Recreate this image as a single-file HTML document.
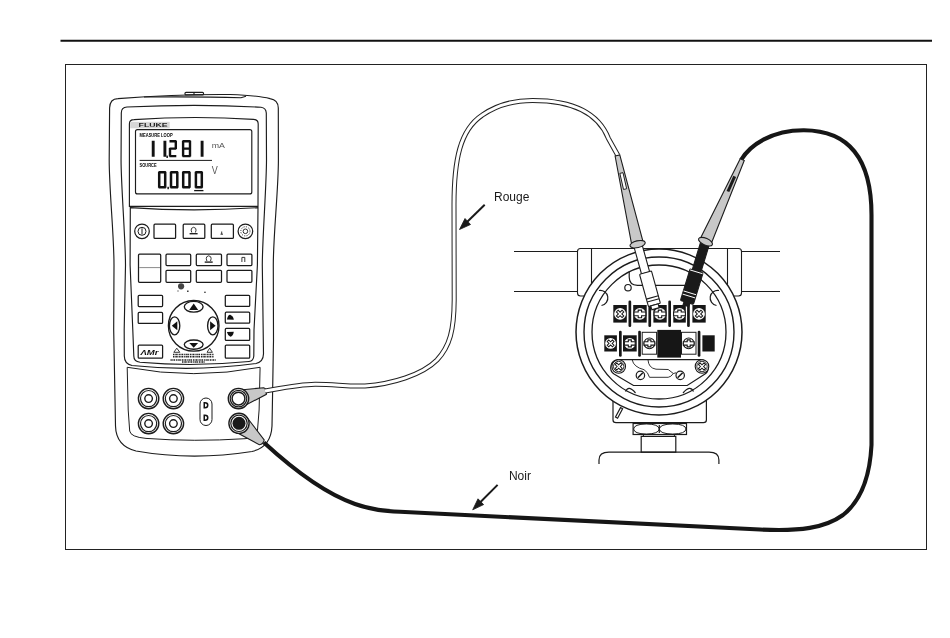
<!DOCTYPE html>
<html><head><meta charset="utf-8"><style>
html,body{margin:0;padding:0;background:#fff;}
body{width:950px;height:638px;overflow:hidden;}
svg{display:block;will-change:transform;}
text{font-family:"Liberation Sans",sans-serif;}
</style></head><body>
<svg width="950" height="638" viewBox="0 0 950 638">
<g fill="none" stroke="#1c1c1c" stroke-width="1.15">
<!-- header rule and frame -->
<line x1="60.5" y1="40.7" x2="932" y2="40.7" stroke="#111" stroke-width="2"/>
<rect x="65.5" y="64.5" width="861" height="485" stroke="#222" stroke-width="1"/>

<!-- ============ METER ============ -->
<!-- body -->
<path id="body" d="M109.6,108 Q109.8,98.8 118,98.6 Q180,94 230,94.5 Q258,95.5 270,98.6 Q278.3,100 278.3,108 L278.4,160 C278.4,190 273.3,235 273.3,265 L273.5,340 L272.3,410 L272,426 Q271,447 252,451.5 Q192,461 136,451 Q116,446 115.5,426 L115.2,410 L113.7,330 L114,265 C114,235 109.2,190 109.2,160 Z"/>
<rect x="185" y="92.3" width="18.5" height="2.6" rx="1"/>
<line x1="194" y1="92.3" x2="194" y2="94.9"/>
<path d="M144,97 Q200,96.5 241,97.7 L246,96.2"/>
<!-- bezel -->
<path d="M121.3,113 Q121.3,107.2 127,107 Q200,103.5 261,107.3 Q266,108 266.3,113 L266.5,160 C266.5,185 262.3,240 262.3,265 L263.5,353.8 Q263.3,362 256,363.5 Q194,372 132,365.5 Q124.4,364 124.3,356 L124.2,330 L125.5,265 C125.5,240 121.05,185 121.05,160 Z"/>
<!-- display frame + keypad panel -->
<path d="M129.4,206.4 L129.4,124 Q129.4,119.7 134,119.6 Q194,115.6 253.5,119.4 Q258.2,119.7 258.2,124 L258,206.4 Z"/>
<path d="M130.3,207.6 Q194,212 258,207.6 L257.4,265 L254,330 L253.8,356 Q253.5,361 249,361.5 Q194,367 140,362.3 Q133.8,361.5 133.8,356 L132.8,330 L130.1,265 Z"/>
<!-- LCD -->
<rect x="135.5" y="129.6" width="116.3" height="64.3" rx="2"/>
<rect x="130.2" y="121.8" width="39.5" height="6.5" fill="#d6d6d6" stroke="none"/>
</g>

<!-- LCD content -->
<g fill="#1a1a1a" stroke="none">
<text x="138.6" y="127" font-size="5" font-weight="bold" textLength="29" lengthAdjust="spacingAndGlyphs" fill="#222">FLUKE</text>
<text x="139.6" y="137.2" font-size="5.4" font-weight="bold" textLength="33" lengthAdjust="spacingAndGlyphs" fill="#000">MEASURE LOOP</text>
<text x="139.6" y="167.2" font-size="4.8" font-weight="bold" textLength="17" lengthAdjust="spacingAndGlyphs" fill="#000">SOURCE</text>
<text x="211.7" y="148" font-size="8" textLength="13.2" lengthAdjust="spacingAndGlyphs" fill="#555">mA</text>
<text x="211.8" y="173.6" font-size="10" textLength="6" lengthAdjust="spacingAndGlyphs" fill="#555">V</text>
</g>
<line x1="139.6" y1="160.4" x2="212" y2="160.4" stroke="#1a1a1a" stroke-width="1"/>
<g fill="none" stroke="#111" stroke-width="2.4" stroke-linecap="square">
<!-- digits -->
<path stroke-width="2.9" d="M153.2,142.1 L153.2,147.9 M153.2,149.3 L153.2,155.2 M164.9,142.1 L164.9,147.9 M164.9,149.3 L164.9,155.2 M202.1,142.1 L202.1,147.9 M202.1,149.3 L202.1,155.2"/>
<path d="M170.7,141.2 L175.1,141.2 M175.8,141.9 L175.8,147.9 M170.7,148.6 L175.1,148.6 M170.0,149.3 L170.0,155.4 M170.7,156.1 L175.1,156.1 M183.8,141.2 L189.3,141.2 M190.0,141.9 L190.0,147.9 M190.0,149.3 L190.0,155.4 M183.8,156.1 L189.3,156.1 M183.1,149.3 L183.1,155.4 M183.1,141.9 L183.1,147.9 M183.8,148.6 L189.3,148.6" stroke-width="2.4"/>
<path d="M159.9,172.2 L164.6,172.2 M165.2,172.9 L165.2,179.1 M165.2,180.4 L165.2,186.6 M159.9,187.2 L164.6,187.2 M159.2,180.4 L159.2,186.6 M159.2,172.9 L159.2,179.1 M171.7,172.2 L176.7,172.2 M177.3,172.9 L177.3,179.1 M177.3,180.4 L177.3,186.6 M171.7,187.2 L176.7,187.2 M171.0,180.4 L171.0,186.6 M171.0,172.9 L171.0,179.1 M183.8,172.2 L188.8,172.2 M189.5,172.9 L189.5,179.1 M189.5,180.4 L189.5,186.6 M183.8,187.2 L188.8,187.2 M183.2,180.4 L183.2,186.6 M183.2,172.9 L183.2,179.1 M196.6,172.2 L201.1,172.2 M201.8,172.9 L201.8,179.1 M201.8,180.4 L201.8,186.6 M196.6,187.2 L201.1,187.2 M195.9,180.4 L195.9,186.6 M195.9,172.9 L195.9,179.1" stroke-width="2.5"/>
<line x1="194.8" y1="190.6" x2="202.8" y2="190.6" stroke-width="1.3"/>
</g>
<g fill="#111"><rect x="166.4" y="155.6" width="1.5" height="2.4"/><rect x="167.4" y="186.8" width="1.5" height="2.4"/></g>

<!-- keypad -->
<g fill="none" stroke="#1a1a1a" stroke-width="1.25">
<circle cx="142" cy="231.3" r="7.3"/>
<circle cx="142" cy="231.3" r="4" stroke-width="1"/>
<line x1="142" y1="228.3" x2="142" y2="234.3" stroke-width="1"/>
<rect x="154" y="224.2" width="21.6" height="14.2" rx="1"/>
<rect x="183.2" y="224.2" width="21.6" height="14.2" rx="1"/>
<rect x="211.3" y="224.2" width="22.1" height="14.2" rx="1"/>
<circle cx="245.4" cy="231.3" r="7.3"/>
<circle cx="245.4" cy="231.3" r="2.3" stroke-width="0.9"/>
<circle cx="245.4" cy="231.3" r="4.6" stroke-width="0.9" stroke-dasharray="1.1 1.3"/>
<rect x="138.5" y="254.2" width="22.2" height="28.1" rx="1"/>
<line x1="139.2" y1="267.6" x2="160" y2="267.6" stroke="#8a8a8a" stroke-width="1"/>
<rect x="166" y="254.2" width="24.7" height="11.4" rx="1"/>
<rect x="196.3" y="254.2" width="25.2" height="11.4" rx="1"/>
<rect x="227" y="254.2" width="24.9" height="11.4" rx="1"/>
<rect x="166" y="270.3" width="24.7" height="12" rx="1"/>
<rect x="196.3" y="270.3" width="25.2" height="12" rx="1"/>
<rect x="227" y="270.3" width="24.9" height="12" rx="1"/>
<rect x="138.2" y="295.3" width="24.4" height="11.2" rx="1"/>
<rect x="138.2" y="312.4" width="24.4" height="11" rx="1"/>
<rect x="138.2" y="345" width="24.4" height="13.2" rx="1"/>
<rect x="225.3" y="295.3" width="24.4" height="11.1" rx="1"/>
<rect x="225.3" y="312.2" width="24.4" height="11" rx="1"/>
<rect x="225.3" y="328.4" width="24.4" height="12" rx="1"/>
<rect x="225.3" y="345" width="24.4" height="13.2" rx="1"/>
<circle cx="193.7" cy="325.8" r="25.3" stroke-width="1.35"/>
<ellipse cx="193.7" cy="306.8" rx="9.4" ry="5.4" stroke-width="1.35"/>
<ellipse cx="193.7" cy="344.6" rx="9.4" ry="4.6" stroke-width="1.35"/>
<ellipse cx="174.6" cy="325.8" rx="5.2" ry="9" stroke-width="1.35"/>
<ellipse cx="212.8" cy="325.8" rx="5.2" ry="9" stroke-width="1.35"/>
</g>
<g fill="#111" stroke="none">
<path d="M189.2,310 L193.7,303.5 L198.2,310 Z"/>
<path d="M189.3,343 Q193.7,343.2 198.1,343 L193.7,347.8 Z"/>
<path d="M177.3,321.3 L177.3,330.3 L171.8,325.8 Z"/>
<path d="M210.1,321.3 L210.1,330.3 L215.6,325.8 Z"/>
<path d="M226.9,319.5 Q228,314.5 230.2,314.8 Q233.6,316.5 233.8,319.7 Z"/>
<path d="M226.9,332 L233.8,331.8 Q233,336.5 230.4,336.8 Q227.5,335 226.9,332 Z"/>
<circle cx="181.1" cy="286.3" r="3.1" fill="#444"/>
<rect x="177.5" y="290.5" width="1" height="1" />
<rect x="187" y="290.6" width="1.6" height="1.2" />
<rect x="204.2" y="291.7" width="1.5" height="1.1"/>
<text x="140.5" y="355.3" font-size="7.5" font-style="italic" font-weight="bold" textLength="18" lengthAdjust="spacingAndGlyphs">ΛMr</text>
<path d="M173,354.5 L214,354.5 M173,356.7 L214,356.7 M170.5,359.9 L216,359.9 M182,362.1 L205,362.1" stroke="#222" stroke-width="1.5" stroke-dasharray="1.3 0.5 0.9 0.4 1.6 0.9" fill="none"/>
</g>
<g fill="none" stroke="#222" stroke-width="0.9">
<path d="M173.8,352.3 L176.8,348.2 L179.8,352.3 Z M207,352.3 L209.7,348.2 L212.4,352.3 Z"/>
<path d="M191.8,232.5 Q190.6,230 191.6,228.3 Q193.6,226.2 195.6,228.3 Q196.6,230 195.4,232.5"/>
<path d="M206.9,261 Q205.7,258.5 206.7,256.8 Q208.7,254.7 210.7,256.8 Q211.7,258.5 210.5,261"/>
<path d="M220.5,234.2 L223,234.2 M221.7,231.5 L221.7,234.2"/>
<path d="M241.9,262 L241.9,257.4 L244.8,257.4 L244.8,262"/>
</g>
<g fill="#222" stroke="none">
<rect x="189.6" y="233" width="8" height="1.4"/>
<rect x="204.7" y="261.4" width="8" height="1.4"/>
</g>
<!-- jack panel -->
<g fill="none" stroke="#1c1c1c" stroke-width="1">
<path d="M127.2,367.3 Q194,380 260.1,367.3 L259.1,410 L257.5,430 Q256.5,438.5 245,438.7 Q194,442 146,438.4 Q130.5,437 129.7,431 L128.2,410 Z"/>
<circle cx="148.6" cy="398.6" r="10.2" stroke-width="1.4"/><circle cx="148.6" cy="398.6" r="8.1" stroke-width="1.2"/><circle cx="148.6" cy="398.6" r="3.8" stroke-width="1.4"/>
<circle cx="173.4" cy="398.6" r="10.2" stroke-width="1.4"/><circle cx="173.4" cy="398.6" r="8.1" stroke-width="1.2"/><circle cx="173.4" cy="398.6" r="3.8" stroke-width="1.4"/>
<circle cx="148.6" cy="423.6" r="10.2" stroke-width="1.4"/><circle cx="148.6" cy="423.6" r="8.1" stroke-width="1.2"/><circle cx="148.6" cy="423.6" r="3.8" stroke-width="1.4"/>
<circle cx="173.4" cy="423.6" r="10.2" stroke-width="1.4"/><circle cx="173.4" cy="423.6" r="8.1" stroke-width="1.2"/><circle cx="173.4" cy="423.6" r="3.8" stroke-width="1.4"/>
<rect x="200" y="398" width="12" height="27.5" rx="6"/>
</g>
<g fill="#111" stroke="none">
<path d="M203.5,402 L205,402 Q208.5,402 208.5,405 Q208.5,408.5 205,408.5 L203.5,408.5 Z M205,403.5 L205,407 Q207,407 207,405.2 Q207,403.5 205,403.5 Z" fill-rule="evenodd"/>
<path d="M203.5,414.5 L205,414.5 Q208.5,414.5 208.5,417.8 Q208.5,421 205,421 L203.5,421 Z M205,416 L205,419.5 Q207,419.5 207,417.7 Q207,416 205,416 Z" fill-rule="evenodd"/>
</g>
<!-- plugs -->
<g stroke="#1c1c1c" stroke-width="1.1">
<path d="M240,390 L263.7,387.7 Q266.9,388.8 266.4,394.3 L245,405.5 Z" fill="#c8c8c8"/>
<circle cx="238.5" cy="398.6" r="10.2" fill="#fff" stroke-width="1.4"/>
<circle cx="238.5" cy="398.6" r="8.3" fill="none" stroke-width="1.2"/>
<circle cx="238.5" cy="398.6" r="6.4" fill="#fff" stroke-width="1.5"/>
<path d="M247,417.5 L264.2,439.8 Q263.5,444.2 259.3,444.7 L234,431 Z" fill="#c8c8c8"/>
<circle cx="239" cy="423.3" r="10.1" fill="#fff" stroke-width="1.4"/>
<circle cx="239" cy="423.3" r="8.2" fill="none" stroke-width="1.2"/>
<circle cx="239" cy="423.3" r="6.5" fill="#1a1a1a" stroke="none"/>
</g>

<!-- ============ WIRES ============ -->
<!-- red lead (white double line) -->
<path d="M265,391 C285,387.5 300,384.5 315,384.3 C335,384.2 345,386.5 365,386 C392,384 422,375 437,360 C450,346 454,330 454.2,300 L454,205 C454,160 460,130 482,115.3 C498,104 515,100.5 532.6,100.5 C570,100.5 598,112 608.4,138.4 L617.9,155.5" fill="none" stroke="#222" stroke-width="5"/>
<path d="M265,391 C285,387.5 300,384.5 315,384.3 C335,384.2 345,386.5 365,386 C392,384 422,375 437,360 C450,346 454,330 454.2,300 L454,205 C454,160 460,130 482,115.3 C498,104 515,100.5 532.6,100.5 C570,100.5 598,112 608.4,138.4 L617.9,155.5" fill="none" stroke="#fff" stroke-width="3"/>
<!-- black lead -->
<path d="M263.9,442.6 C285,462 320,492 355,504 C372,510 385,511 400,511.8 L760,529.5 C800,531.5 825,528 843,515 C862,500 870,475 871.5,445 L871.5,215 C871.5,160 850,130.5 804,130.2 C772,130 750,145 741.2,159.8" fill="none" stroke="#161616" stroke-width="4.1"/>

<!-- labels -->
<g fill="#1a1a1a">
<text x="494" y="201" font-size="12">Rouge</text>
<text x="508.9" y="479.7" font-size="12">Noir</text>
</g>
<g stroke="#1a1a1a" stroke-width="2" fill="#1a1a1a">
<line x1="484.7" y1="204.7" x2="466" y2="223"/>
<path d="M459.5,229.5 L465,218.5 L470.5,224.5 Z" stroke-width="0.8"/>
<line x1="497.6" y1="484.9" x2="479" y2="503.5"/>
<path d="M472.7,509.8 L478,498.8 L483.6,504.6 Z" stroke-width="0.8"/>
</g>

<!-- ============ TRANSMITTER ============ -->
<g fill="none" stroke="#1c1c1c" stroke-width="1.2">
<line x1="514" y1="251.5" x2="577.5" y2="251.5" stroke-width="1"/>
<line x1="514" y1="291.5" x2="577.5" y2="291.5" stroke-width="1"/>
<line x1="741.5" y1="251.5" x2="780" y2="251.5" stroke-width="1"/>
<line x1="741.5" y1="291.5" x2="780" y2="291.5" stroke-width="1"/>
<rect x="577.5" y="248.5" width="164" height="47.5" rx="3" fill="#fff" stroke-width="1.1"/>
<line x1="591.5" y1="249" x2="591.5" y2="290" stroke-width="1.1"/>
<line x1="727.5" y1="249" x2="727.5" y2="290" stroke-width="1.1"/>
<!-- neck / nut / stem / base -->
<path d="M613,380 L613,420 Q613,422.6 616,422.6 L703.4,422.6 Q706.4,422.6 706.4,420 L706.4,380" fill="#fff"/>
<path d="M615.5,417 L620.5,407.6 L622.6,408.8 L617.6,418.2 Z"/>
<rect x="633.1" y="423.5" width="53.4" height="11" fill="#fff"/>
<path d="M633.6,429 Q634,424.2 646.4,423.9 Q658.8,424.2 659.3,429 Q658.8,433.8 646.4,434.1 Q634,433.8 633.6,429 Z M659.3,429 Q659.8,424.2 672.7,423.9 Q685.6,424.2 686,429 Q685.6,433.8 672.7,434.1 Q659.8,433.8 659.3,429 Z" stroke-width="1"/>
<line x1="659.3" y1="425" x2="659.3" y2="433"/>
<rect x="643.4" y="434.5" width="31" height="1.9" fill="#fff" stroke-width="1"/>
<rect x="641.2" y="436.4" width="34.6" height="15.8" fill="#fff"/>
<path d="M599,464 L599,460 Q599,452.2 609,452.2 L709,452.2 Q718.9,452.2 718.9,460 L718.9,464"/>
<circle cx="659" cy="332" r="83" fill="#fff" stroke-width="1.5"/>
<circle cx="659" cy="332" r="75" stroke-width="1.4"/>
<circle cx="659" cy="332" r="67" stroke-width="1.3"/>
<!-- inner upper shapes -->
<path d="M629.2,271.5 L629.2,277 Q629.2,285.3 637.5,285.3 L692,285.3"/>
<circle cx="628" cy="287.7" r="3.2"/>
<path d="M599,290.5 A7.2,7.2 0 1,1 601.5,305.5"/>
<path d="M719,290.5 A7.2,7.2 0 1,0 716.5,305.5"/>
<!-- lower plate -->
<path d="M617.7,359.6 L699.8,359.6 A8,8 0 0,1 705,374 L687.2,385.5 L633.5,385.5 L614,374 A8,8 0 0,1 617.7,359.6 Z"/>
<path d="M625.5,391.5 Q628.5,384.5 635.5,393 M683,393 Q690,384.5 693.5,391.5"/>
<path d="M632.2,359.8 Q633.5,367 644,369.7 Q648,372 649.5,377.3 L668.2,377.3 Q671,377 673.3,373.5 L676,372.8 M648,359.8 Q648.5,368 656,369.2 L668.2,369.5 L673.3,373.5" stroke-width="0.9"/>
<circle cx="640.4" cy="375.4" r="4.2"/>
<circle cx="680.2" cy="375.4" r="4.2"/>
<line x1="637.8" y1="377.8" x2="642.8" y2="372.8" stroke-width="1.6"/>
<line x1="677.6" y1="377.8" x2="682.6" y2="372.8" stroke-width="1.6"/>
</g>
<!-- terminal blocks -->
<g stroke="none" fill="#161616">
<rect x="613.3" y="305" width="13.5" height="17.6"/>
<rect x="633.2" y="305" width="13.5" height="17.6"/>
<rect x="653.4" y="305" width="13.3" height="17.6"/>
<rect x="673.3" y="305" width="12.5" height="17.6"/>
<rect x="692.4" y="305" width="13.3" height="17.6"/>
<rect x="628.5" y="300.5" width="2.7" height="26.5" rx="1.3"/>
<rect x="648.4" y="300.5" width="2.7" height="26.5" rx="1.3"/>
<rect x="668.3" y="300.5" width="2.7" height="26.5" rx="1.3"/>
<rect x="687.1" y="300.5" width="2.7" height="26.5" rx="1.3"/>
<rect x="604.3" y="335.3" width="12.6" height="16.2"/>
<rect x="623" y="335.3" width="13.7" height="16.2"/>
<rect x="657.3" y="329.9" width="23.7" height="27.7"/>
<rect x="702.4" y="335.3" width="12.3" height="16.2"/>
<rect x="619" y="330.7" width="2.7" height="26" rx="1.3"/>
<rect x="638.2" y="330.7" width="2.7" height="26" rx="1.3"/>
<rect x="697.7" y="330.7" width="2.7" height="26" rx="1.3"/>
</g>
<g fill="#fff" stroke="#1c1c1c" stroke-width="1">
<rect x="642.2" y="332.3" width="14.4" height="21.9"/>
<rect x="681.5" y="332.3" width="14.5" height="21.9"/>
</g>
<g>
<circle cx="620.1" cy="313.9" r="5.9" fill="#fff" stroke="none" stroke-width="1.1"/><path d="M-4.00,-1.20 L-1.20,-1.20 L-1.20,-4.00 L1.20,-4.00 L1.20,-1.20 L4.00,-1.20 L4.00,1.20 L1.20,1.20 L1.20,4.00 L-1.20,4.00 L-1.20,1.20 L-4.00,1.20 Z" transform="translate(620.1,313.9) rotate(45)" fill="#fff" stroke="#161616" stroke-width="1.00"/>
<circle cx="639.9" cy="313.9" r="5.9" fill="#fff" stroke="none"/><path d="M634.00,312.00 L638.20,312.00 L638.20,310.10 L641.60,310.10 L641.60,312.00 L645.80,312.00 L645.80,315.80 L641.60,315.80 L641.60,317.70 L638.20,317.70 L638.20,315.80 L634.00,315.80 Z" fill="#fff" stroke="#161616" stroke-width="1.10"/>
<circle cx="660.0" cy="313.9" r="5.9" fill="#fff" stroke="none"/><path d="M654.10,312.00 L658.30,312.00 L658.30,310.10 L661.70,310.10 L661.70,312.00 L665.90,312.00 L665.90,315.80 L661.70,315.80 L661.70,317.70 L658.30,317.70 L658.30,315.80 L654.10,315.80 Z" fill="#fff" stroke="#161616" stroke-width="1.10"/>
<circle cx="679.5" cy="313.9" r="5.9" fill="#fff" stroke="none"/><path d="M673.60,312.00 L677.80,312.00 L677.80,310.10 L681.20,310.10 L681.20,312.00 L685.40,312.00 L685.40,315.80 L681.20,315.80 L681.20,317.70 L677.80,317.70 L677.80,315.80 L673.60,315.80 Z" fill="#fff" stroke="#161616" stroke-width="1.10"/>
<circle cx="699.0" cy="313.9" r="5.9" fill="#fff" stroke="none" stroke-width="1.1"/><path d="M-4.00,-1.20 L-1.20,-1.20 L-1.20,-4.00 L1.20,-4.00 L1.20,-1.20 L4.00,-1.20 L4.00,1.20 L1.20,1.20 L1.20,4.00 L-1.20,4.00 L-1.20,1.20 L-4.00,1.20 Z" transform="translate(699.0,313.9) rotate(45)" fill="#fff" stroke="#161616" stroke-width="1.00"/>
<circle cx="610.6" cy="343.4" r="5.4" fill="#fff" stroke="none" stroke-width="1.1"/><path d="M-3.70,-1.10 L-1.10,-1.10 L-1.10,-3.70 L1.10,-3.70 L1.10,-1.10 L3.70,-1.10 L3.70,1.10 L1.10,1.10 L1.10,3.70 L-1.10,3.70 L-1.10,1.10 L-3.70,1.10 Z" transform="translate(610.6,343.4) rotate(45)" fill="#fff" stroke="#161616" stroke-width="1.00"/>
<circle cx="629.8" cy="343.4" r="5.4" fill="#fff" stroke="none"/><path d="M624.40,341.70 L628.30,341.70 L628.30,339.90 L631.30,339.90 L631.30,341.70 L635.20,341.70 L635.20,345.10 L631.30,345.10 L631.30,346.90 L628.30,346.90 L628.30,345.10 L624.40,345.10 Z" fill="#fff" stroke="#161616" stroke-width="1.10"/>
<circle cx="649.4" cy="343.4" r="5.4" fill="#fff" stroke="#161616" stroke-width="1.1"/><path d="M644.00,341.70 L647.90,341.70 L647.90,339.90 L650.90,339.90 L650.90,341.70 L654.80,341.70 L654.80,345.10 L650.90,345.10 L650.90,346.90 L647.90,346.90 L647.90,345.10 L644.00,345.10 Z" fill="#fff" stroke="#161616" stroke-width="1.10"/>
<circle cx="688.7" cy="343.4" r="5.4" fill="#fff" stroke="#161616" stroke-width="1.1"/><path d="M683.30,341.70 L687.20,341.70 L687.20,339.90 L690.20,339.90 L690.20,341.70 L694.10,341.70 L694.10,345.10 L690.20,345.10 L690.20,346.90 L687.20,346.90 L687.20,345.10 L683.30,345.10 Z" fill="#fff" stroke="#161616" stroke-width="1.10"/>
<circle cx="618.7" cy="366.5" r="6.8" fill="#fff" stroke="#161616" stroke-width="1.1"/><circle cx="618.7" cy="366.5" r="5.2" fill="none" stroke="#161616" stroke-width="0.9"/><path d="M-3.90,-1.15 L-1.15,-1.15 L-1.15,-3.90 L1.15,-3.90 L1.15,-1.15 L3.90,-1.15 L3.90,1.15 L1.15,1.15 L1.15,3.90 L-1.15,3.90 L-1.15,1.15 L-3.90,1.15 Z" transform="translate(618.7,366.5) rotate(45)" fill="#fff" stroke="#161616" stroke-width="1.00"/>
<circle cx="702.0" cy="366.5" r="6.8" fill="#fff" stroke="#161616" stroke-width="1.1"/><circle cx="702.0" cy="366.5" r="5.2" fill="none" stroke="#161616" stroke-width="0.9"/><path d="M-3.90,-1.15 L-1.15,-1.15 L-1.15,-3.90 L1.15,-3.90 L1.15,-1.15 L3.90,-1.15 L3.90,1.15 L1.15,1.15 L1.15,3.90 L-1.15,3.90 L-1.15,1.15 L-3.90,1.15 Z" transform="translate(702.0,366.5) rotate(45)" fill="#fff" stroke="#161616" stroke-width="1.00"/>
</g>

<!-- probes -->
<g transform="translate(637.6,244.2) rotate(-15.5)" stroke="#1c1c1c" stroke-width="1.1">
<rect x="-4.2" y="2" width="8.4" height="28" fill="#fff"/>
<rect x="-6.2" y="29.5" width="12.4" height="33.5" rx="1" fill="#fff"/>
<line x1="-6.2" y1="55.3" x2="6.2" y2="55.3"/>
<line x1="-6.2" y1="58.3" x2="6.2" y2="58.3"/>
<rect x="-3.8" y="63" width="7.6" height="4" fill="#fff"/>
</g>
<g transform="translate(637.6,244.2) rotate(-12.8)" stroke="#1c1c1c" stroke-width="1.1">
<path d="M-2.4,-91 L2.4,-91 L5.8,-2 L-5.8,-2 Z" fill="#c8c8c8"/>
<rect x="-1.6" y="-73" width="3.2" height="16.5" fill="#fff" stroke-width="0.9"/>
<ellipse cx="0" cy="0" rx="7.8" ry="3.4" fill="#c8c8c8"/>
</g>
<g transform="translate(705.5,241.7) rotate(17)" stroke="#1c1c1c" stroke-width="1.1">
<rect x="-4.5" y="2" width="9" height="29" fill="#1a1a1a"/>
<rect x="-6.8" y="30.5" width="13.6" height="33" rx="1" fill="#1a1a1a"/>
<line x1="-6.5" y1="31.5" x2="6.5" y2="31.5" stroke="#fff" stroke-width="0.9"/>
<line x1="-6.5" y1="53.5" x2="6.5" y2="53.5" stroke="#fff" stroke-width="0.9"/>
<line x1="-6.5" y1="56.8" x2="6.5" y2="56.8" stroke="#fff" stroke-width="0.9"/>
<rect x="-3" y="63" width="6" height="4" fill="#1a1a1a"/>
</g>
<g transform="translate(705.5,241.7) rotate(24.1)" stroke="#1c1c1c" stroke-width="1.1">
<path d="M-2.2,-90 L2.2,-90 L6,-2 L-6,-2 Z" fill="#c8c8c8"/>
<rect x="-1.5" y="-71.5" width="3" height="16.5" fill="#1a1a1a" stroke="none"/>
<ellipse cx="0" cy="0" rx="7.5" ry="3.4" fill="#c8c8c8"/>
</g>
</svg>
</body></html>
